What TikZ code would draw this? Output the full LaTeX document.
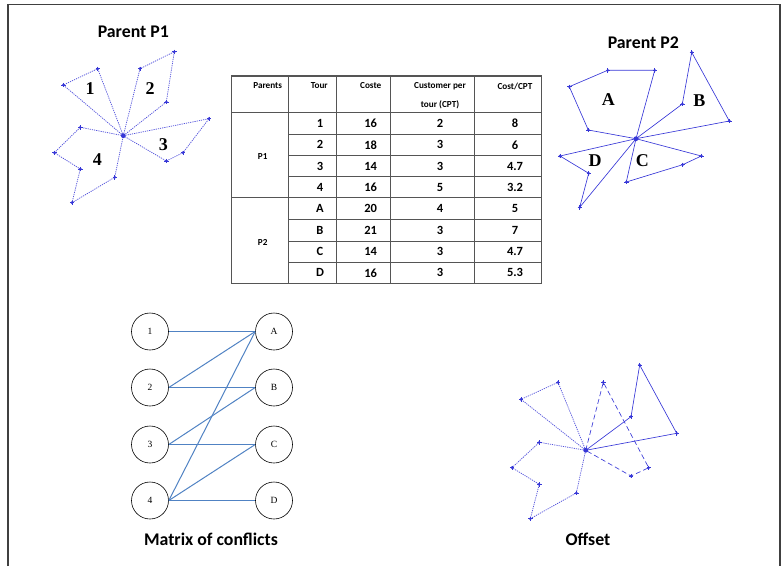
\documentclass[tikz,border=0pt]{standalone}
\usepackage{fontspec}
\setmainfont{Liberation Serif}
\newfontfamily\carlito{Carlito}
\definecolor{tourblue}{RGB}{55,55,215}
\definecolor{dotblue}{RGB}{85,85,220}
\definecolor{edgeblue}{RGB}{80,130,195}
\definecolor{gridgray}{RGB}{85,85,85}
\begin{document}
\begin{tikzpicture}[x=1pt,y=-1pt,
  dotline/.style={dotblue, line width=0.75pt, dash pattern=on 1.2pt off 1pt},
  solidline/.style={tourblue, line width=0.65pt},
  dashline/.style={tourblue, line width=0.65pt, dash pattern=on 5pt off 3pt},
  tourlabel/.style={font=\fontsize{18}{18}\selectfont\bfseries},
  titletext/.style={font=\carlito\fontsize{17.8}{18}\selectfont\bfseries},
  hdr/.style={font=\carlito\fontsize{9.2}{10}\selectfont\bfseries},
  cell/.style={font=\carlito\fontsize{12.5}{13}\selectfont\bfseries},
  vtx/.style={circle, draw=black, line width=0.6pt, minimum size=37pt, inner sep=0pt, font=\fontsize{9.5}{9.5}\selectfont},
  conf/.style={edgeblue, line width=1pt},
  tline/.style={gridgray, line width=0.6pt},
  tthick/.style={gridgray, line width=1.1pt}]
\useasboundingbox (0,0) rectangle (782,566);
\newcommand\mk[1]{\fill[tourblue] (#1) circle[radius=1.5pt];
  \draw[tourblue, line width=0.45pt] (#1) +(-2.2,0) -- +(2.2,0) (#1) +(0,-2.2) -- +(0,2.2);}
% frame
\draw[line width=1.2pt, black!75] (8,566) -- (8,4.5) -- (780,4.5) -- (780,566);

% ---------- Parent P1 ----------
\node[titletext] (t1) at (133.3,31.7) {Parent P1};
\coordinate (p1c) at (123.3,135.7);
\coordinate (p1a) at (97.7,68.7);  \coordinate (p1b) at (63.3,85);
\coordinate (p2a) at (140,68.7);   \coordinate (p2b) at (174.3,51.7); \coordinate (p2c) at (166.3,102);
\coordinate (p3a) at (209,118.7);  \coordinate (p3b) at (183,152.7);  \coordinate (p3c) at (166.3,161);
\coordinate (p4a) at (80.3,127.3); \coordinate (p4b) at (54.3,152.7); \coordinate (p4c) at (80.3,169);
\coordinate (p4d) at (72,202.7);   \coordinate (p4e) at (114.7,177.3);
\draw[dotline] (p1c) -- (p1a) -- (p1b) -- (p1c);
\draw[dotline] (p1c) -- (p2a) -- (p2b) -- (p2c) -- (p1c);
\draw[dotline] (p1c) -- (p3a) -- (p3b) -- (p3c) -- (p1c);
\draw[dotline] (p1c) -- (p4a) -- (p4b) -- (p4c) -- (p4d) -- (p4e) -- (p1c);
\foreach \p in {p1a,p1b,p2a,p2b,p2c,p3a,p3b,p3c,p4a,p4b,p4c,p4d,p4e} {\mk{\p}}
\fill[tourblue] (p1c) circle[radius=2.4pt];
\node[tourlabel] (l1) at (90,88.3) {1};
\node[tourlabel] (l2) at (150,88.3) {2};
\node[tourlabel] (l3) at (163.3,145) {3};
\node[tourlabel] (l4) at (97.3,160) {4};

% ---------- Parent P2 ----------
\node[titletext] (t2) at (643.3,42.7) {Parent P2};
\coordinate (qc) at (636,138.7);
\coordinate (qa1) at (588.3,130); \coordinate (qa2) at (569.3,86.7); \coordinate (qa3) at (607.7,70.3); \coordinate (qa4) at (654.7,70.3);
\coordinate (qb1) at (682.3,104); \coordinate (qb2) at (691.7,52.3); \coordinate (qb3) at (729.3,121);
\coordinate (qc1) at (701.3,156); \coordinate (qc2) at (682.7,164.7); \coordinate (qc3) at (626.3,182);
\coordinate (qd1) at (560,156);   \coordinate (qd2) at (588.7,173.3); \coordinate (qd3) at (579.7,207.3);
\draw[solidline] (qc) -- (qa1) -- (qa2) -- (qa3) -- (qa4) -- (qc);
\draw[solidline] (qc) -- (qb1) -- (qb2) -- (qb3) -- (qc);
\draw[solidline] (qc) -- (qc1) -- (qc2) -- (qc3) -- (qc);
\draw[solidline] (qc) -- (qd1) -- (qd2) -- (qd3) -- (qc);
\foreach \p in {qa1,qa2,qa3,qa4,qb1,qb2,qb3,qc1,qc2,qc3,qd1,qd2,qd3} {\mk{\p}}
\fill[tourblue] (qc) circle[radius=2.4pt];
\node[tourlabel] (la) at (608.3,100) {A};
\node[tourlabel] (lb) at (699.3,100.7) {B};
\node[tourlabel] (lc) at (642.3,161) {C};
\node[tourlabel] (ld) at (595,161) {D};

% ---------- Table ----------
\draw[tthick] (231.7,76) rectangle (541.7,283.3);
\draw[tthick] (231.7,112.3) -- (541.7,112.3);
\draw[tthick] (231.7,197.7) -- (541.7,197.7);
\foreach \x in {288.3,336.7,390.7,474.3} {\draw[tline] (\x,76) -- (\x,283.3);}
\foreach \y in {134,155.7,176.7,219.3,241,262.3} {\draw[tline] (288.3,\y) -- (541.7,\y);}
\node[hdr] (h1) at (267.7,86) {Parents};
\node[hdr] (h2) at (319.3,86) {Tour};
\node[hdr] (h3) at (370.7,86) {Coste};
\node[hdr] (h4) at (440,86) {Customer per};
\node[hdr] (h4b) at (440,105) {tour (CPT)};
\node[hdr] (h5) at (515,86) {Cost/CPT};
\node[hdr] (gp1) at (262.7,157) {P1};
\node[hdr] (gp2) at (262.7,242) {P2};
\foreach \r/\y/\t/\c/\n/\v in {1/123.2/1/16/2/8, 2/144.8/2/18/3/6, 3/166.2/3/14/3/4.7, 4/187.2/4/16/5/3.2,
  5/208.5/A/20/4/5, 6/230.2/B/21/3/7, 7/251.7/C/14/3/4.7, 8/272.8/D/16/3/5.3} {
  \node[cell] (ta\r) at (320,\y) {\t};
  \node[cell] (tb\r) at (370.7,\y) {\c};
  \node[cell] (tc\r) at (440,\y) {\n};
  \node[cell] (td\r) at (515,\y) {\v};
}

% ---------- Matrix of conflicts ----------
\node[vtx] (L1) at (150,331.5) {1};
\node[vtx] (L2) at (150,387.5) {2};
\node[vtx] (L3) at (150,444.5) {3};
\node[vtx] (L4) at (150,500.5) {4};
\node[vtx] (RA) at (274,331.5) {A};
\node[vtx] (RB) at (274,387.5) {B};
\node[vtx] (RC) at (274,444.5) {C};
\node[vtx] (RD) at (274,500.5) {D};
\draw[conf] (L1.east) -- (RA.west);
\draw[conf] (L2.east) -- (RA.west);
\draw[conf] (L2.east) -- (RB.west);
\draw[conf] (L3.east) -- (RB.west);
\draw[conf] (L3.east) -- (RC.west);
\draw[conf] (L4.east) -- (RA.west);
\draw[conf] (L4.east) -- (RC.west);
\draw[conf] (L4.east) -- (RD.west);
\node[titletext] (t3) at (211,539) {Matrix of conflicts};

% ---------- Offset ----------
\coordinate (oc) at (585.7,450.3);
\coordinate (o1a) at (558,382.3); \coordinate (o1b) at (521,399.3);
\coordinate (o4a) at (539.3,442.3); \coordinate (o4b) at (512,467.7); \coordinate (o4c) at (539.3,484.3);
\coordinate (o4d) at (530.3,518.7); \coordinate (o4e) at (576.3,493);
\coordinate (oca) at (603.3,382.3); \coordinate (ocb) at (648.7,467.7); \coordinate (occ) at (631,476);
\coordinate (oba) at (631,416.7); \coordinate (obb) at (639.7,365); \coordinate (obc) at (676.7,433.3);
\draw[dotline] (oc) -- (o1a) -- (o1b) -- (oc);
\draw[dotline] (oc) -- (o4a) -- (o4b) -- (o4c) -- (o4d) -- (o4e) -- (oc);
\draw[dashline] (oc) -- (oca) -- (ocb) -- (occ) -- (oc);
\draw[solidline] (oc) -- (oba) -- (obb) -- (obc) -- (oc);
\foreach \p in {o1a,o1b,o4a,o4b,o4c,o4d,o4e,oca,ocb,occ,oba,obb,obc} {\mk{\p}}
\fill[tourblue] (oc) circle[radius=2.4pt];
\node[titletext] (t4) at (588,539) {Offset};
\end{tikzpicture}
\end{document}
